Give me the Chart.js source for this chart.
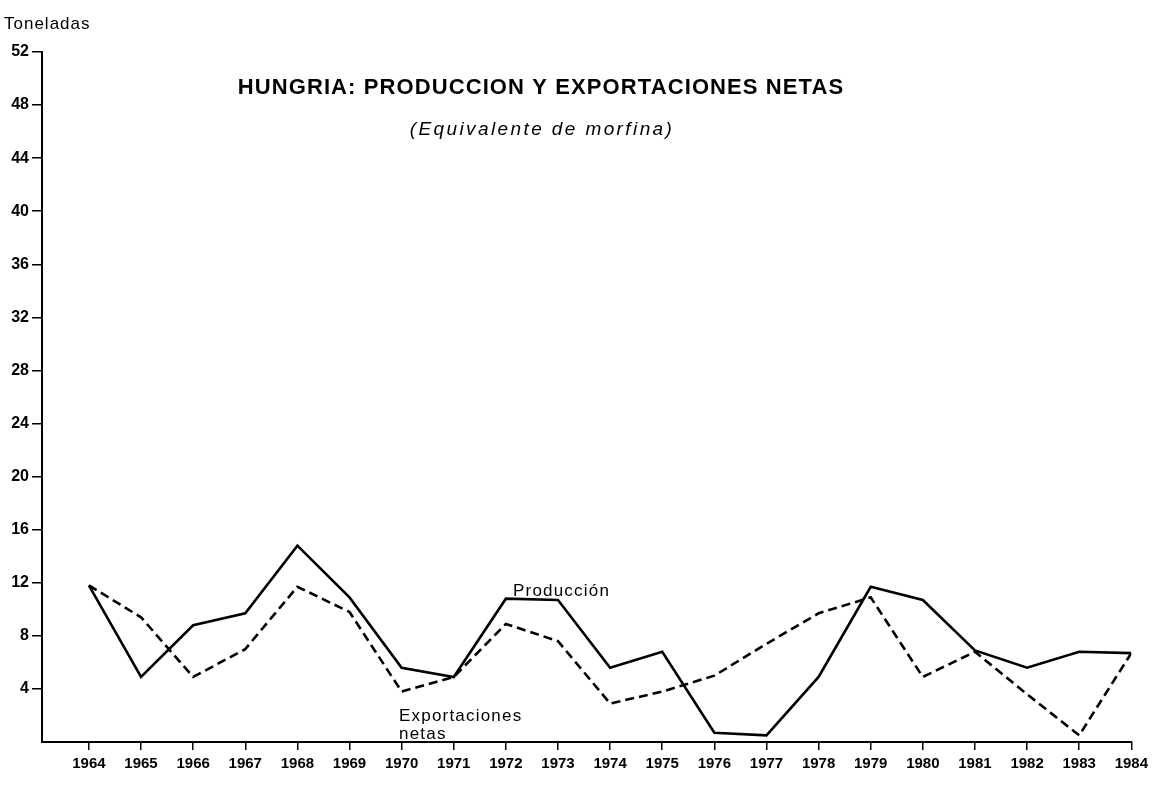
<!DOCTYPE html>
<html>
<head>
<meta charset="utf-8">
<script src="https://cdn.jsdelivr.net/npm/chart.js@4.4.0/dist/chart.umd.min.js"></script>
<style>
  html, body { margin: 0; padding: 0; background: #fff; }
  #wrap { width: 1153px; height: 786px; position: relative; }
</style>
</head>
<body>
<div id="wrap"><canvas id="c"></canvas></div>
<script>
// data (toneladas)
const years = [1964,1965,1966,1967,1968,1969,1970,1971,1972,1973,1974,1975,1976,1977,1978,1979,1980,1981,1982,1983,1984];
const produccion = [11.8,4.9,8.8,9.7,14.8,10.9,5.6,4.9,10.8,10.7,5.6,6.8,0.7,0.5,4.9,11.7,10.7,6.9,5.6,6.8,6.7];
const exportaciones = [11.8,9.4,4.9,7.0,11.7,9.8,3.8,4.9,8.9,7.6,2.9,3.8,5.0,7.4,9.7,10.9,4.9,6.8,3.6,0.5,6.7];
const yTicks = [4,8,12,16,20,24,28,32,36,40,44,48,52];

const FONT = '"Liberation Sans", Arial, Helvetica, sans-serif';

// titles and line labels drawn on the canvas
function txt(ctx, s, x, y, font, spacing, align) {
  ctx.font = font;
  ctx.letterSpacing = spacing + 'px';
  ctx.textAlign = align || 'left';
  ctx.fillText(s, x, y);
}
const textPlugin = {
  id: 'texts',
  afterDraw(chart) {
    const ctx = chart.ctx;
    ctx.save();
    ctx.fillStyle = '#000';
    ctx.textBaseline = 'middle';
    txt(ctx, 'Toneladas', 4, 24, '17px ' + FONT, 1);
    txt(ctx, 'HUNGRIA: PRODUCCION Y EXPORTACIONES NETAS', 541, 88, 'bold 22px ' + FONT, 1.1, 'center');
    txt(ctx, '(Equivalente de morfina)', 542, 130, 'italic 19px ' + FONT, 2.4, 'center');
    txt(ctx, 'Producción', 513, 591, '17px ' + FONT, 1.2);
    txt(ctx, 'Exportaciones', 399, 716, '17px ' + FONT, 1.2);
    txt(ctx, 'netas', 399, 734, '17px ' + FONT, 1.2);
    ctx.restore();
  }
};

new Chart(document.getElementById('c'), {
  type: 'line',
  data: {
    datasets: [
      { label: 'Producción', data: years.map((y, i) => ({ x: y, y: produccion[i] })),
        borderColor: '#000', borderWidth: 2.6, pointRadius: 0, tension: 0 },
      { label: 'Exportaciones netas', data: years.map((y, i) => ({ x: y, y: exportaciones[i] })),
        borderColor: '#000', borderWidth: 2.6, borderDash: [9, 5], pointRadius: 0, tension: 0 }
    ]
  },
  plugins: [textPlugin],
  options: {
    responsive: true,
    maintainAspectRatio: false,
    animation: false,
    layout: { padding: { top: 52, right: 16, bottom: 0, left: 0 } },
    plugins: { legend: { display: false }, tooltip: { enabled: false } },
    scales: {
      x: {
        type: 'linear', min: 1963.1, max: 1984,
        afterBuildTicks: axis => { axis.ticks = years.map(v => ({ value: v })); },
        afterFit: axis => { axis.height = 44; },
        border: { color: '#000', width: 2 },
        grid: { drawOnChartArea: false, color: '#000', tickLength: 8, lineWidth: 1.5 },
        ticks: { color: '#000', padding: 5, maxRotation: 0, autoSkip: false,
                 font: { family: FONT, size: 15, weight: 'bold' }, callback: v => String(v) }
      },
      y: {
        min: 0, max: 52,
        afterBuildTicks: axis => { axis.ticks = yTicks.map(v => ({ value: v })); },
        afterFit: axis => { axis.width = 42; },
        border: { color: '#000', width: 2 },
        grid: { drawOnChartArea: false, color: '#000', tickLength: 10, lineWidth: 1.5 },
        ticks: { color: '#000', padding: 3,
                 font: { family: FONT, size: 16, weight: 'bold' } }
      }
    }
  }
});
</script>
</body>
</html>
